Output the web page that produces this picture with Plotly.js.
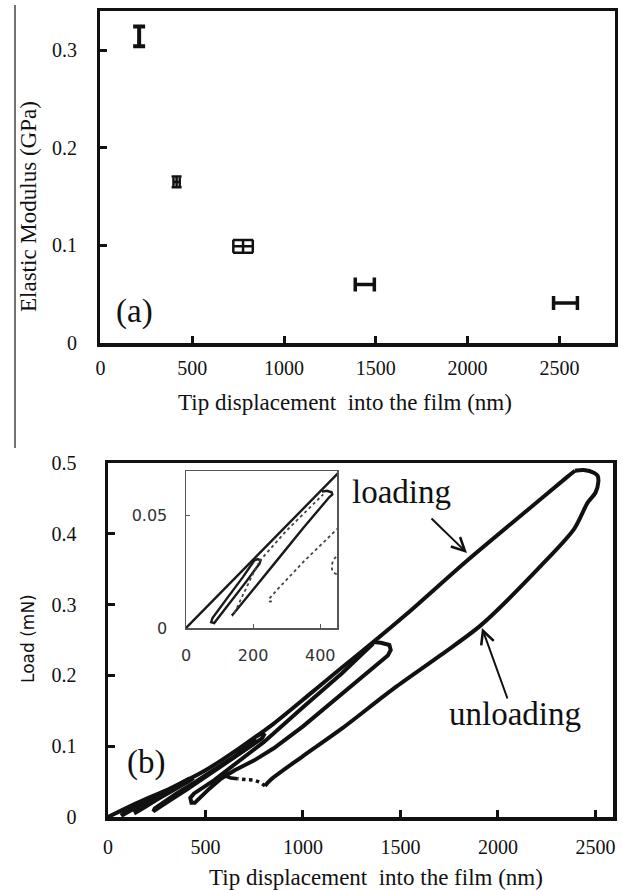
<!DOCTYPE html>
<html>
<head>
<meta charset="utf-8">
<script src="https://cdn.plot.ly/plotly-3.0.1.min.js"></script>
<style>html,body{margin:0;padding:0;background:#fff;}#chart{width:623px;height:890px;}</style>
</head>
<body>
<div id="chart"></div>
<script>
// ---------- DATA: panel (a) elastic modulus ----------
var modX    = [211, 415, 777, 1440, 2533];      // tip displacement (nm)
var modY    = [0.314, 0.165, 0.099, 0.060, 0.041]; // elastic modulus (GPa)
var modXErr = [0, 17, 53, 52, 65];
var modYErr = [0.010, 0.0055, 0.0065, 0, 0];
var topXTicks = [0, 500, 1000, 1500, 2000, 2500];
var topYTicks = [0, 0.1, 0.2, 0.3];
var topYTickText = ['0', '0.1', '0.2', '0.3'];

// ---------- DATA: panel (b) load-displacement ----------
var loadX = [0, 150, 323, 500, 667, 850, 1041, 1195, 1360, 1533, 1841, 2149, 2354, 2395];
var loadY = [0, 0.020, 0.041, 0.066, 0.096, 0.132, 0.175, 0.210, 0.247, 0.287, 0.362, 0.433, 0.480, 0.489];

var unload5X = [2395, 2440, 2494, 2511, 2515, 2500, 2460, 2391, 2221, 1913, 1708, 1468, 1195, 1000, 836, 805];
var unload5Y = [0.489, 0.490, 0.486, 0.482, 0.474, 0.458, 0.444, 0.407, 0.355, 0.271, 0.229, 0.182, 0.124, 0.086, 0.053, 0.044];

var tailX = [805, 780, 750, 708, 665];
var tailY = [0.044, 0.049, 0.052, 0.053, 0.054];
var stepX = [665, 630, 600, 580];
var stepY = [0.054, 0.055, 0.058, 0.060];

var c4X = [1360, 1400, 1443, 1450, 1435, 1300, 1195, 1000, 850, 750, 650, 579, 520, 470, 445, 428, 422, 440, 470, 545, 667, 800, 1000, 1200, 1360];
var c4Y = [0.247, 0.246, 0.243, 0.236, 0.228, 0.197, 0.172, 0.128, 0.097, 0.080, 0.066, 0.054, 0.040, 0.027, 0.020, 0.020, 0.027, 0.033, 0.038, 0.052, 0.078, 0.106, 0.155, 0.203, 0.245];

var c3X = [760, 790, 800, 790, 700, 600, 500, 400, 320, 270, 245, 232, 240, 270, 350, 450, 550, 650, 760];
var c3Y = [0.114, 0.118, 0.116, 0.111, 0.094, 0.075, 0.056, 0.038, 0.024, 0.015, 0.010, 0.008, 0.012, 0.018, 0.033, 0.050, 0.068, 0.086, 0.110];

var c2X = [420, 430, 415, 350, 250, 180, 142, 138, 150, 220, 300, 380, 420];
var c2Y = [0.055, 0.053, 0.050, 0.040, 0.024, 0.012, 0.006, 0.008, 0.011, 0.024, 0.037, 0.049, 0.055];

var c1X = [214, 220, 200, 150, 100, 76, 72, 85, 140, 190, 214];
var c1Y = [0.028, 0.026, 0.022, 0.014, 0.006, 0.0025, 0.004, 0.007, 0.016, 0.024, 0.028];

var botXTicks = [0, 500, 1000, 1500, 2000, 2500];
var botYTicks = [0, 0.1, 0.2, 0.3, 0.4, 0.5];
var botYTickText = ['0', '0.1', '0.2', '0.3', '0.4', '0.5'];

// ---------- DATA: inset ----------
var insLoadX = [0, 150, 300, 455];
var insLoadY = [0, 0.0229, 0.0457, 0.0693];
var insC1X = [204, 214, 222, 219, 180, 144, 100, 84, 75, 79, 126, 170, 204];
var insC1Y = [0.0302, 0.0307, 0.0301, 0.0287, 0.0208, 0.0140, 0.0055, 0.0022, 0.0026, 0.0044, 0.0140, 0.0228, 0.0302];
var insC12X = [219, 300, 409];
var insC12Y = [0.0298, 0.0435, 0.0596];
var insC2X = [405, 420, 434, 436, 428, 350, 279, 200, 145, 139, 137];
var insC2Y = [0.0608, 0.0612, 0.0605, 0.0595, 0.0585, 0.0447, 0.0316, 0.0170, 0.0068, 0.0059, 0.0064];
var insC2rX = [144, 170, 214];
var insC2rY = [0.0066, 0.0148, 0.0287];
var insC3X = [455, 350, 270, 252, 246, 250, 262];
var insC3Y = [0.0448, 0.0295, 0.0168, 0.0140, 0.0127, 0.0118, 0.0120];
var insArcX = [447, 438, 434, 436, 444, 450];
var insArcY = [0.0318, 0.0300, 0.0275, 0.0255, 0.0243, 0.0240];
var insXTicks = [0, 200, 400];
var insYTicks = [0, 0.05];
var insYTickText = ['0', '0.05'];

// ---------- STYLE ----------
var W = 623, H = 890;
function px(x) { return x / W; }
function py(y) { return 1 - y / H; }
var SERIF = 'Liberation Serif, Times New Roman, serif';
var SANS = 'DejaVu Sans, sans-serif';
var capX = [0, 4.5, 6.5, 7, 7];
var capY = [6, 5, 10, 0, 0];
var errThick = [4, 2.5, 2.5, 3.5, 3.5];

var traces = [];
for (var i = 0; i < modX.length; i++) {
  traces.push({
    x: [modX[i]], y: [modY[i]], xaxis: 'x', yaxis: 'y', type: 'scatter', mode: 'markers',
    marker: {size: 1, color: '#111'},
    error_x: {type: 'data', array: [modXErr[i]], visible: modXErr[i] > 0, color: '#111', thickness: errThick[i], width: capX[i]},
    error_y: {type: 'data', array: [modYErr[i]], visible: modYErr[i] > 0, color: '#111', thickness: errThick[i], width: capY[i]},
    hoverinfo: 'none'
  });
}
function mainLine(x, y, opts) {
  opts = opts || {};
  return {x: x, y: y, xaxis: 'x2', yaxis: 'y2', type: 'scatter', mode: 'lines',
    line: {color: '#111', width: opts.width || 4, dash: opts.dash || 'solid',
           shape: opts.spline ? 'spline' : 'linear', smoothing: 0.8},
    hoverinfo: 'none'};
}
traces.push(mainLine(c1X, c1Y, {width: 3.5}));
traces.push(mainLine(c2X, c2Y, {width: 3.5}));
traces.push(mainLine(c3X, c3Y));
traces.push(mainLine(c4X, c4Y));
traces.push(mainLine(loadX, loadY, {spline: true}));
traces.push(mainLine(unload5X, unload5Y, {spline: true}));
traces.push(mainLine(tailX, tailY, {dash: 'dot', width: 3.5}));
traces.push(mainLine(stepX, stepY, {width: 3.5}));

function insLine(x, y, dotted) {
  return {x: x, y: y, xaxis: 'x3', yaxis: 'y3', type: 'scatter', mode: 'lines',
    line: dotted ? {color: '#444', width: 1.8, dash: 'dot'} : {color: '#1a1a1a', width: 2.4},
    hoverinfo: 'none'};
}
traces.push(insLine(insLoadX, insLoadY, false));
traces.push(insLine(insC1X, insC1Y, false));
traces.push(insLine(insC12X, insC12Y, true));
traces.push(insLine(insC2X, insC2Y, false));
traces.push(insLine(insC2rX, insC2rY, true));
traces.push(insLine(insC3X, insC3Y, true));
traces.push(insLine(insArcX, insArcY, true));

var mainAxis = {
  showline: true, linecolor: '#111', linewidth: 3.5, mirror: true,
  ticks: 'inside', ticklen: 7, tickwidth: 3, tickcolor: '#111',
  showgrid: false, zeroline: false, fixedrange: true,
  tickfont: {family: SERIF, size: 20, color: '#111'}
};
function ax(extra) { var o = JSON.parse(JSON.stringify(mainAxis)); for (var k in extra) o[k] = extra[k]; return o; }

var layout = {
  width: W, height: H, margin: {l: 0, r: 0, t: 0, b: 0},
  paper_bgcolor: '#fff', plot_bgcolor: '#fff', showlegend: false,
  xaxis: ax({domain: [px(100.4), px(614.5)], range: [0, 2800], anchor: 'y',
    tickmode: 'array', tickvals: topXTicks, ticklabelstandoff: 4}),
  yaxis: ax({domain: [py(343), py(11)], range: [0, 0.34], anchor: 'x',
    tickmode: 'array', tickvals: topYTicks, ticktext: topYTickText, ticklabelstandoff: 16}),
  xaxis2: ax({domain: [px(108), px(613)], range: [0, 2590], anchor: 'y2',
    tickmode: 'array', tickvals: botXTicks, ticklabelstandoff: 9}),
  yaxis2: ax({domain: [py(817), py(463)], range: [0, 0.5], anchor: 'x2',
    tickmode: 'array', tickvals: botYTicks, ticktext: botYTickText, ticklabelstandoff: 24}),
  xaxis3: {domain: [px(186), px(337)], range: [0, 450], anchor: 'y3',
    showline: true, linecolor: '#555', linewidth: 1.5, mirror: true,
    ticks: 'inside', ticklen: 4, tickwidth: 1, tickcolor: '#555',
    showgrid: false, zeroline: false, fixedrange: true,
    tickmode: 'array', tickvals: insXTicks, ticklabelstandoff: 12,
    tickfont: {family: SANS, size: 16, color: '#333'}},
  yaxis3: {domain: [py(628), py(471)], range: [0, 0.07], anchor: 'x3',
    showline: true, linecolor: '#555', linewidth: 1.5, mirror: true,
    ticks: 'inside', ticklen: 4, tickwidth: 1, tickcolor: '#555',
    showgrid: false, zeroline: false, fixedrange: true,
    tickmode: 'array', tickvals: insYTicks, ticktext: insYTickText, ticklabelstandoff: 14,
    tickfont: {family: SANS, size: 16, color: '#333'}},
  shapes: [
    {type: 'line', xref: 'paper', yref: 'paper', x0: px(15), x1: px(15), y0: py(448), y1: py(5),
     line: {color: '#444', width: 1.5}}
  ],
  annotations: [
    {xref: 'paper', yref: 'paper', x: px(345), y: py(402), xanchor: 'center', yanchor: 'middle',
     text: 'Tip displacement\u00a0 into the film (nm)', showarrow: false,
     font: {family: SERIF, size: 23, color: '#111'}},
    {xref: 'paper', yref: 'paper', x: px(28), y: py(207), xanchor: 'center', yanchor: 'middle',
     text: 'Elastic Modulus (GPa)', textangle: -90, showarrow: false,
     font: {family: SERIF, size: 23, color: '#111'}},
    {xref: 'paper', yref: 'paper', x: px(134), y: py(311), xanchor: 'center', yanchor: 'middle',
     text: '(a)', showarrow: false, font: {family: SERIF, size: 33, color: '#111'}},
    {xref: 'paper', yref: 'paper', x: px(376), y: py(877), xanchor: 'center', yanchor: 'middle',
     text: 'Tip displacement\u00a0 into the film (nm)', showarrow: false,
     font: {family: SERIF, size: 23, color: '#111'}},
    {xref: 'paper', yref: 'paper', x: px(28), y: py(639), xanchor: 'center', yanchor: 'middle',
     text: 'Load (mN)', textangle: -90, showarrow: false,
     font: {family: SANS, size: 17, color: '#111'}},
    {xref: 'paper', yref: 'paper', x: px(146), y: py(762), xanchor: 'center', yanchor: 'middle',
     text: '(b)', showarrow: false, font: {family: SERIF, size: 33, color: '#111'}},
    {xref: 'paper', yref: 'paper', x: px(401), y: py(492), xanchor: 'center', yanchor: 'middle',
     text: 'loading', showarrow: false, font: {family: SERIF, size: 33, color: '#111'}},
    {xref: 'paper', yref: 'paper', x: px(515), y: py(714), xanchor: 'center', yanchor: 'middle',
     text: 'unloading', showarrow: false, font: {family: SERIF, size: 33, color: '#111'}},
    {xref: 'paper', yref: 'paper', x: px(467), y: py(553), text: '', showarrow: true,
     ax: -37, ay: -36, arrowhead: 5, arrowsize: 1.3, arrowwidth: 2, arrowcolor: '#111'},
    {xref: 'paper', yref: 'paper', x: px(482), y: py(628), text: '', showarrow: true,
     ax: 26, ay: 72, arrowhead: 5, arrowsize: 1.3, arrowwidth: 2, arrowcolor: '#111'}
  ]
};

Plotly.newPlot('chart', traces, layout, {staticPlot: true, displayModeBar: false});
</script>
</body>
</html>
